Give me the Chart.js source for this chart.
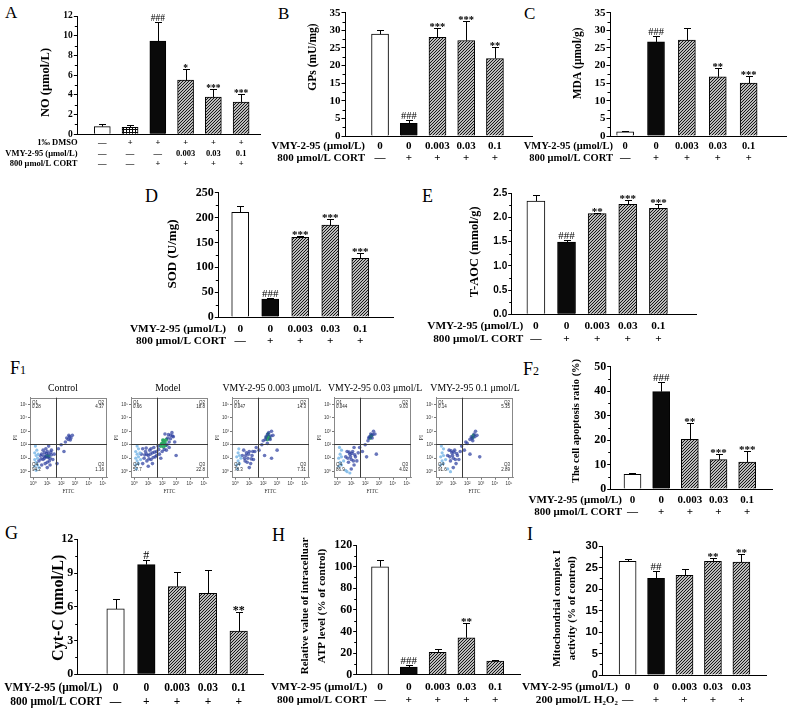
<!DOCTYPE html>
<html><head><meta charset="utf-8">
<script src="https://cdn.jsdelivr.net/npm/chart.js@4.4.1/dist/chart.umd.min.js"></script>
<style>
html,body{margin:0;padding:0;background:#fff}
body{position:relative;width:789px;height:709px;overflow:hidden}
.pane{position:absolute}
.pane canvas{display:block}
.lt{position:absolute;font-family:"Liberation Serif",serif;line-height:1;color:#000;white-space:nowrap}
.ft{font-size:9.8px;text-align:center;width:120px}
</style></head><body>
<div class="lt" style="left:5px;top:4px;font-size:17px">A</div>
<div class="lt" style="left:278px;top:5px;font-size:17px">B</div>
<div class="lt" style="left:524px;top:5px;font-size:17px">C</div>
<div class="lt" style="left:145px;top:187px;font-size:18px">D</div>
<div class="lt" style="left:422px;top:187px;font-size:18px">E</div>
<div class="lt" style="left:10px;top:359px;font-size:18px">F<span style="font-size:12px">1</span></div>
<div class="lt" style="left:523px;top:360px;font-size:18px">F<span style="font-size:12px">2</span></div>
<div class="lt" style="left:5px;top:524px;font-size:18px">G</div>
<div class="lt" style="left:272px;top:526px;font-size:18px">H</div>
<div class="lt" style="left:527px;top:525px;font-size:18px">I</div>
<script>
// ---------------- DATA ----------------
// condition rows
const dmsoRowA = ['—','+','+','+','+','+'];
const vmyRowA  = ['—','—','—','0.003','0.03','0.1'];
const cortRowA = ['—','—','+','+','+','+'];
const vmyRow   = ['0','0','0.003','0.03','0.1'];
const cortRow  = ['—','+','+','+','+'];
const vmyRowI  = ['0','0','0.003','0.03','0.03'];
const h2o2Row  = ['—','+','+','+','+'];
const rowLabelDMSO = '1‰ DMSO';
const rowLabelVMY  = 'VMY-2-95 (μmol/L)';
const rowLabelCORT = '800 μmol/L CORT';
const rowLabelH2O2 = '200 μmol/L H₂O₂';

// bar fills per group
const fillsA = ['white','grid','black','hatch','hatch','hatch'];
const fills5 = ['white','black','hatch','hatch','hatch'];

// A: NO
const noMean = [0.78,0.71,9.45,5.5,3.78,3.28];
const noErr  = [0.3,0.2,1.95,1.1,0.78,0.77];
const noSig  = ['','','###','*','***','***'];
// B: GPs
const gpsMean = [28.9,3.6,28.0,27.1,22.0];
const gpsErr  = [1.2,0.9,2.6,5.6,3.2];
const gpsSig  = ['','###','***','***','**'];
// C: MDA
const mdaMean = [1.2,26.7,27.2,16.8,15.0];
const mdaErr  = [0.2,1.6,3.4,2.4,2.0];
const mdaSig  = ['','###','','**','***'];
// D: SOD
const sodMean = [210.5,36.2,160.2,185,118];
const sodErr  = [12,2.7,1.8,11.4,10.7];
const sodSig  = ['','###','***','***','***'];
// E: T-AOC
const taocMean = [2.34,1.49,2.08,2.27,2.19];
const taocErr  = [0.12,0.05,0.02,0.09,0.08];
const taocSig  = ['','###','**','***','***'];
// F2: apoptosis
const apopMean = [6.0,39.8,20.3,12.0,11.0];
const apopErr  = [0.5,3.8,6.5,2.2,4.5];
const apopSig  = ['','###','**','***','***'];
// G: Cyt-C
const cytcMean = [5.81,9.75,7.79,7.2,3.85];
const cytcErr  = [0.86,0.41,1.34,2.07,1.69];
const cytcSig  = ['','#','','','**'];
// H: ATP
const atpMean = [99.9,7.1,20.7,34.2,12.6];
const atpErr  = [6.2,1.8,3.1,13.3,1.0];
const atpSig  = ['','###','','**',''];
// I: complex I
const cxMean = [26.43,22.48,23.18,26.43,26.28];
const cxErr  = [0.47,1.72,1.39,0.77,1.86];
const cxSig  = ['','##','','**','**'];

// axis titles
const titleA = ['NO (μmol/L)'];
const titleB = ['GPs (mU/mg)'];
const titleC = ['MDA (μmol/g)'];
const titleD = ['SOD (U/mg)'];
const titleE = ['T-AOC (mmol/g)'];
const titleF2 = ['The cell apoptosis ratio (%)'];
const titleG = ['Cyt-C (nmol/L)'];
const titleH = ['Relative value of intracelluar','ATP level (% of control)'];
const titleI = ['Mitochondrial complex I','activity (% of control)'];

// F1: flow cytometry
const flowTitles = ['Control','Model','VMY-2-95 0.003 μmol/L','VMY-2-95 0.03 μmol/L','VMY-2-95 0.1 μmol/L'];
const qNames = ['Q1','Q2','Q3','Q4'];
const q1 = ['0.28','0.66','0.047','0.044','0.14'];
const q2 = ['4.37','18.8','14.3','9.03','5.35'];
const q3 = ['1.16','22.8','7.31','4.02','2.89'];
const q4 = ['94.2','57.7','78.3','86.9','91.6'];
const decades = [0,1,2,3,4,5];
const gateFITC = 1.62, gatePI = 2.03;   // gate positions in log10 units
// event clouds (log10 FITC, log10 PI)
const ctrlBlue = [[0.5,1.2],[0.7,0.9],[0.8,1.4],[0.9,1.1],[1.0,0.7],[1.1,1.3],[1.2,1.0],[0.6,0.5],[1.3,1.6],[0.9,1.7],[1.4,0.9],[0.7,1.6],[1.0,0.3],[1.2,0.5],[0.4,0.8],[1.5,1.3],[1.1,1.9],[1.8,1.7],[2.0,2.0],[2.3,2.2],[2.5,2.4],[2.6,2.6],[2.7,2.5],[2.4,2.5],[2.8,2.7],[2.2,1.5],[1.7,0.6],[0.8,1.0],[1.0,1.5],[0.6,1.3],[0.85,0.6],[1.15,0.8],[1.3,1.25],[0.95,1.35],[0.75,1.15],[1.05,1.05],[1.25,1.45],[0.55,0.95],[2.55,2.7],[2.65,2.35]];
const ctrlLight = [[0.1,0.4],[0.1,0.9],[0.1,1.4],[0.2,0.7],[0.2,1.2],[0.3,0.5],[0.3,1.0],[0.25,1.6],[0.15,1.9],[0.35,1.3],[0.4,0.3],[0.2,0.1]];
const ctrlCore = [[0.95,1.15],[1.1,1.15]];
const modelBlue = [[0.5,1.3],[0.7,1.0],[0.8,1.5],[0.9,0.8],[1.0,1.2],[1.1,1.6],[1.2,0.9],[1.3,1.4],[0.6,0.6],[1.4,1.8],[1.5,1.1],[1.6,1.5],[1.7,1.9],[1.8,1.3],[1.0,0.4],[1.3,0.6],[2.3,1.6],[2.5,1.8],[2.4,2.5],[2.6,2.7],[2.7,2.9],[2.5,2.2],[2.8,2.6],[2.2,2.8],[2.0,1.5],[3.0,1.2],[2.9,2.2],[1.9,1.0],[1.2,1.7],[0.9,1.3],[0.6,1.7],[0.75,1.25],[1.05,0.95],[1.15,1.3],[1.45,1.45],[1.35,1.05],[0.85,1.75],[1.6,1.2],[1.75,1.65],[2.15,1.65],[2.35,2.0],[2.6,2.45],[2.45,2.75],[2.75,2.65]];
const modelLight = [[0.1,0.5],[0.1,1.0],[0.1,1.5],[0.2,0.8],[0.2,1.3],[0.3,0.6],[0.3,1.1],[0.3,1.7],[0.2,1.9],[0.4,1.4],[0.45,0.9],[0.15,0.2]];
const modelCore = [[1.9,1.9],[2.0,2.1],[2.1,1.85],[2.2,2.2],[2.05,2.35],[1.95,2.05],[2.3,2.4],[2.15,2.05],[2.25,1.95],[2.1,2.3]];
const v003Blue = [[0.5,1.2],[0.7,0.8],[0.8,1.4],[0.9,1.0],[1.0,1.5],[1.1,0.6],[1.2,1.2],[0.6,1.6],[1.3,0.9],[1.4,1.5],[1.0,0.3],[1.5,1.8],[1.7,1.6],[1.9,2.0],[2.0,2.3],[2.2,2.6],[2.4,2.9],[2.6,3.0],[2.5,2.4],[2.3,2.1],[2.7,2.7],[2.1,1.2],[2.6,1.0],[3.0,1.6],[0.75,1.2],[0.95,1.3],[1.15,0.95],[0.65,1.0],[1.25,1.5],[0.85,0.7],[2.15,2.4],[2.55,2.65],[2.3,2.75]];
const v003Light = [[0.1,0.5],[0.1,1.1],[0.2,0.8],[0.2,1.4],[0.3,0.6],[0.3,1.2],[0.25,1.7],[0.4,1.0],[0.15,0.2]];
const v003Core = [[2.3,2.4],[2.4,2.6],[2.35,2.8],[2.45,2.5],[2.25,2.55]];
const v03Blue = [[0.6,1.1],[0.8,0.7],[0.9,1.3],[1.0,0.9],[1.1,1.5],[1.2,0.5],[1.3,1.1],[0.7,1.5],[1.4,0.8],[1.0,0.2],[1.5,1.4],[1.6,1.8],[1.8,1.5],[2.0,2.0],[2.2,2.3],[2.3,2.6],[2.4,2.8],[2.6,3.0],[2.5,2.5],[2.7,2.8],[2.1,1.1],[2.8,1.3],[1.2,1.8],[0.75,1.0],[0.95,1.1],[1.15,0.8],[1.05,1.35],[0.85,1.45],[1.25,1.25],[2.25,2.5],[2.55,2.75]];
const v03Light = [[0.1,0.4],[0.1,1.0],[0.2,0.7],[0.2,1.3],[0.3,0.5],[0.3,1.1],[0.3,1.6],[0.7,0.0],[0.9,-0.1],[0.45,0.8],[0.6,0.1],[0.15,1.8]];
const v03Core = [[2.35,2.5],[2.45,2.7],[2.4,2.6]];
const v01Blue = [[0.6,1.2],[0.8,0.8],[0.9,1.4],[1.0,1.0],[1.1,1.6],[1.2,0.6],[1.3,1.2],[0.7,1.6],[1.4,0.9],[1.0,0.3],[1.5,1.5],[1.6,1.9],[1.8,1.6],[2.0,2.1],[2.2,2.4],[2.3,2.6],[2.5,2.8],[2.6,3.0],[2.4,2.3],[2.7,2.7],[2.2,1.3],[2.9,1.1],[1.9,2.2],[0.75,1.1],[0.95,1.2],[1.15,0.9],[1.05,1.45],[0.85,1.55],[1.25,1.35],[2.35,2.45],[2.55,2.6]];
const v01Light = [[0.1,0.5],[0.1,1.1],[0.2,0.8],[0.2,1.4],[0.3,0.6],[0.3,1.2],[0.3,1.7],[0.8,0.0],[0.45,0.9],[0.6,0.2],[0.15,1.9]];
const v01Core = [[2.45,2.7],[2.4,2.55]];
const flowBlue  = [ctrlBlue, modelBlue, v003Blue, v03Blue, v01Blue];
const flowLight = [ctrlLight, modelLight, v003Light, v03Light, v01Light];
const flowCore  = [ctrlCore, modelCore, v003Core, v03Core, v01Core];

// ---------------- STYLE / LAYOUT ----------------
const SERIF = '"Liberation Serif", "Times New Roman", serif';
const SANS = '"Liberation Sans", Arial, sans-serif';
const SUP = ['⁰','¹','²','³','⁴','⁵'];
Chart.defaults.font.family = SERIF;
Chart.defaults.color = '#000';

function makePattern(kind){
  const s=3, c=document.createElement('canvas'); c.width=c.height=s;
  const g=c.getContext('2d'); g.fillStyle='#fff'; g.fillRect(0,0,s,s);
  g.strokeStyle='#0a0a0a'; g.lineWidth=1.05; g.beginPath();
  if(kind==='hatch'){ g.moveTo(-1,s+1); g.lineTo(s+1,-1); g.moveTo(-1,1); g.lineTo(1,-1); g.moveTo(s-1,s+1); g.lineTo(s+1,s-1); }
  else { g.moveTo(0,0.5); g.lineTo(s,0.5); g.moveTo(0.5,0); g.lineTo(0.5,s); }
  g.stroke(); return g.createPattern(c,'repeat');
}
const HATCH = makePattern('hatch'), GRID = makePattern('grid');
const fillMap = {white:'#ffffff', black:'#0a0a0a', hatch:HATCH, grid:GRID};

function addPane(box){
  const w=document.createElement('div'); w.className='pane';
  w.style.cssText=`left:${box[0]}px;top:${box[1]}px;width:${box[2]}px;height:${box[3]}px`;
  const c=document.createElement('canvas'); w.appendChild(c); document.body.appendChild(w); return c;
}

function minorTicks(){return {id:'minor',afterDraw(chart){
  const ctx=chart.ctx, ys=chart.scales.y, t=ys.ticks, x0=chart.chartArea.left;
  ctx.save(); ctx.strokeStyle='#000'; ctx.lineWidth=1; ctx.beginPath();
  for(let i=0;i<t.length-1;i++){const y=Math.round(ys.getPixelForValue((t[i].value+t[i+1].value)/2))+0.5; ctx.moveTo(x0-2.5,y); ctx.lineTo(x0,y);}
  ctx.stroke(); ctx.restore();}};}

function errBars(L,D){return {id:'errbars',afterDatasetsDraw(chart){
  const ctx=chart.ctx, ys=chart.scales.y, bars=chart.getDatasetMeta(0).data;
  ctx.save(); ctx.strokeStyle='#000'; ctx.fillStyle='#000'; ctx.lineWidth=1;
  bars.forEach((b,i)=>{
    const x=Math.round(b.x)+0.5, top=Math.round(ys.getPixelForValue(D.mean[i]+D.err[i]))+0.5, base=ys.getPixelForValue(D.mean[i]);
    ctx.beginPath(); ctx.moveTo(x,base); ctx.lineTo(x,top); ctx.moveTo(x-3.5,top); ctx.lineTo(x+3.5,top); ctx.stroke();
    const s=D.sig[i];
    if(s){ const hash=s.charAt(0)==='#';
      ctx.font=(hash?'':'bold ')+L.sigSize+'px '+SERIF; ctx.textAlign='center'; ctx.textBaseline='alphabetic';
      ctx.fillText(s,b.x,hash?top-1.5:top+L.sigSize*0.14); }
  });
  ctx.restore();}};}

function tableRows(L,D){return {id:'rows',afterDraw(chart){
  const ctx=chart.ctx, xs=chart.scales.x, bl=L.box[0], bt=L.box[1];
  ctx.save(); ctx.fillStyle='#000'; ctx.textBaseline='middle'; ctx.font='bold '+L.rowSize+'px '+SERIF;
  D.rows.forEach((r,k)=>{ const y=L.rowY[k]-bt;
    ctx.textAlign='right'; ctx.fillText(r[0],L.rowRight-bl,y);
    ctx.textAlign='center'; r[1].forEach((t,i)=>ctx.fillText(t,xs.getPixelForValue(i),y)); });
  ctx.restore();}};}

function yTitle(L,lines){return {id:'ytitle',afterDraw(chart){
  const T=L.title, ctx=chart.ctx; ctx.save(); ctx.translate(T.cx-L.box[0],T.cy-L.box[1]); ctx.rotate(-Math.PI/2);
  ctx.font='bold '+T.size+'px '+SERIF; ctx.textAlign='center'; ctx.textBaseline='middle'; ctx.fillStyle='#000';
  lines.forEach((s,i)=>ctx.fillText(s,0,i*(T.lh||0))); ctx.restore();}};}

function barChart(L,D){
  const [bl,bt,bw,bh]=L.box; const cv=addPane(L.box);
  const tickFont={family:L.tickFamily||SERIF,size:L.tickSize,weight:'bold'};
  return new Chart(cv,{
    type:'bar',
    data:{datasets:[{data:D.mean.map((v,i)=>({x:i,y:v})),backgroundColor:D.fills.map(f=>fillMap[f]),
      borderColor:'#000',borderWidth:1,barThickness:L.bar}]},
    options:{responsive:true,maintainAspectRatio:false,animation:false,events:[],
      layout:{padding:{left:0,bottom:0,top:L.yTop-bt,right:bl+bw-L.axisEnd}},
      plugins:{legend:{display:false},tooltip:{enabled:false}},
      scales:{
        x:{type:'linear',min:L.xMin,max:L.xMax,offset:false,grid:{display:false,offset:false},
           border:{display:true,color:'#000',width:1},ticks:{display:false},afterFit:s=>{s.height=bt+bh-L.y0;}},
        y:{type:'linear',min:0,max:L.yMax,
           ticks:{stepSize:L.step,font:tickFont,color:'#000',padding:1,autoSkip:false,callback:L.fmt||(v=>String(v))},
           grid:{display:true,drawOnChartArea:false,drawTicks:true,tickLength:3.5,color:'#000',lineWidth:1},
           border:{display:true,color:'#000',width:1},afterFit:s=>{s.width=L.axisX-bl;}}
      }},
    plugins:[minorTicks(),errBars(L,D),tableRows(L,D),yTitle(L,D.title)]
  });
}

const layoutA={box:[0,0,268,172],axisX:77.3,yTop:16,y0:134.3,axisEnd:260,xMin:-0.90,xMax:5.68,bar:16,yMax:12,step:2,tickSize:9.5,rowSize:8.5,rowRight:77.5,rowY:[143,154,164],sigSize:9.5,title:{cx:45.5,cy:82.5,size:12.5}};
const layoutB={box:[265,0,270,170],axisX:345,yTop:12.7,y0:136,axisEnd:532,xMin:-1.22,xMax:5.29,bar:17,yMax:35,step:5,tickSize:11,rowSize:11,rowRight:365,rowY:[146,158],sigSize:10.5,title:{cx:313,cy:57,size:11.5}};
const layoutC={box:[520,0,269,170],axisX:610,yTop:12.7,y0:136,axisEnd:786,xMin:-0.49,xMax:5.21,bar:17,yMax:35,step:5,tickSize:11,rowSize:10.5,rowRight:613,rowY:[146,158],sigSize:10.5,title:{cx:578,cy:63.3,size:11.5}};
const layoutD={box:[120,175,275,175],axisX:218.3,yTop:192.7,y0:317,axisEnd:393,xMin:-0.73,xMax:5.09,bar:17,yMax:250,step:50,tickSize:12,rowSize:11.3,rowRight:226,rowY:[329,341.3],sigSize:11,title:{cx:173,cy:254,size:13}};
const layoutE={box:[400,175,300,175],axisX:511.7,yTop:193.3,y0:314.3,axisEnd:696.7,xMin:-0.79,xMax:5.25,bar:18,yMax:2.5,step:0.5,tickSize:10,tickFamily:SANS,fmt:v=>v.toFixed(1),rowSize:11.3,rowRight:523.3,rowY:[325.7,339],sigSize:11,title:{cx:475,cy:251.7,size:12.5}};
const layoutF2={box:[520,350,269,170],axisX:610.7,yTop:366.7,y0:489,axisEnd:772.7,xMin:-0.76,xMax:4.89,bar:17,yMax:50,step:10,tickSize:12,rowSize:11,rowRight:622,rowY:[500,511.7],sigSize:11,title:{cx:576,cy:421,size:10.5}};
const layoutG={box:[0,520,268,189],axisX:77.7,yTop:539.3,y0:674.3,axisEnd:263,xMin:-1.23,xMax:4.79,bar:17.5,yMax:12,step:3,tickSize:12,rowSize:11.5,rowRight:102,rowY:[688.3,701.7],sigSize:12,title:{cx:59,cy:607.8,size:16}};
const layoutH={box:[262,520,262,189],axisX:356.7,yTop:545,y0:674.7,axisEnd:520,xMin:-0.81,xMax:4.86,bar:17,yMax:120,step:20,tickSize:12,rowSize:11.3,rowRight:367,rowY:[686.7,700],sigSize:11,title:{cx:305,cy:606,size:11,lh:16.7}};
const layoutI={box:[519,520,270,189],axisX:602.3,yTop:546,y0:675,axisEnd:766.7,xMin:-0.89,xMax:4.89,bar:17,yMax:30,step:5,tickSize:11,tickFamily:SANS,rowSize:11.3,rowRight:618,rowY:[686.7,700],sigSize:11,title:{cx:556.7,cy:608.3,size:11,lh:15}};

barChart(layoutA,{mean:noMean,err:noErr,sig:noSig,fills:fillsA,title:titleA,rows:[[rowLabelDMSO,dmsoRowA],[rowLabelVMY,vmyRowA],[rowLabelCORT,cortRowA]]});
barChart(layoutB,{mean:gpsMean,err:gpsErr,sig:gpsSig,fills:fills5,title:titleB,rows:[[rowLabelVMY,vmyRow],[rowLabelCORT,cortRow]]});
barChart(layoutC,{mean:mdaMean,err:mdaErr,sig:mdaSig,fills:fills5,title:titleC,rows:[[rowLabelVMY,vmyRow],[rowLabelCORT,cortRow]]});
barChart(layoutD,{mean:sodMean,err:sodErr,sig:sodSig,fills:fills5,title:titleD,rows:[[rowLabelVMY,vmyRow],[rowLabelCORT,cortRow]]});
barChart(layoutE,{mean:taocMean,err:taocErr,sig:taocSig,fills:fills5,title:titleE,rows:[[rowLabelVMY,vmyRow],[rowLabelCORT,cortRow]]});
barChart(layoutF2,{mean:apopMean,err:apopErr,sig:apopSig,fills:fills5,title:titleF2,rows:[[rowLabelVMY,vmyRow],[rowLabelCORT,cortRow]]});
barChart(layoutG,{mean:cytcMean,err:cytcErr,sig:cytcSig,fills:fills5,title:titleG,rows:[[rowLabelVMY,vmyRow],[rowLabelCORT,cortRow]]});
barChart(layoutH,{mean:atpMean,err:atpErr,sig:atpSig,fills:fills5,title:titleH,rows:[[rowLabelVMY,vmyRow],[rowLabelCORT,cortRow]]});
barChart(layoutI,{mean:cxMean,err:cxErr,sig:cxSig,fills:fills5,title:titleI,rows:[[rowLabelVMY,vmyRowI],[rowLabelH2O2,h2o2Row]]});

// ---------------- FLOW PLOTS ----------------
const flowLayout={lefts:[30,131,232,334,436],titleX:[63,168,272,375,475],titleTop:383,padL:20,top:392,w:102,h:110,plotTop:397.7,plotW:77,plotBottom:477.7,xMin:-0.24,xMax:5.29,yMin:-0.45,yMax:5.5};

function flowDecor(k){return {id:'decor',afterDatasetsDraw(chart){
  const ctx=chart.ctx, ca=chart.chartArea, xs=chart.scales.x, ys=chart.scales.y;
  ctx.save();
  ctx.strokeStyle='#888'; ctx.lineWidth=1;
  ctx.strokeRect(Math.round(ca.left)+0.5,Math.round(ca.top)+0.5,Math.round(ca.right-ca.left)-1,Math.round(ca.bottom-ca.top)-1);
  const gx=Math.round(xs.getPixelForValue(gateFITC))+0.5, gy=Math.round(ys.getPixelForValue(gatePI))+0.5;
  ctx.strokeStyle='#3a3a3a'; ctx.beginPath(); ctx.moveTo(gx,ca.top); ctx.lineTo(gx,ca.bottom); ctx.moveTo(ca.left,gy); ctx.lineTo(ca.right,gy); ctx.stroke();
  ctx.font='4.5px '+SANS; ctx.fillStyle='#222'; ctx.textBaseline='middle';
  ctx.textAlign='left';
  ctx.fillText(qNames[0],ca.left+2,ca.top+5); ctx.fillText(q1[k],ca.left+2,ca.top+9.5);
  ctx.fillText(qNames[3],ca.left+2,ca.bottom-12.5); ctx.fillText(q4[k],ca.left+2,ca.bottom-7.5);
  ctx.textAlign='right';
  ctx.fillText(qNames[1],ca.right-3,ca.top+5); ctx.fillText(q2[k],ca.right-3,ca.top+9.5);
  ctx.fillText(qNames[2],ca.right-3,ca.bottom-12.5); ctx.fillText(q3[k],ca.right-3,ca.bottom-7.5);
  ctx.restore();}};}

function toPts(arr){return arr.map(p=>({x:p[0],y:p[1]}));}

function flowChart(k){
  const F=flowLayout, left=F.lefts[k]-F.padL, box=[left,F.top,F.w,F.h];
  const cv=addPane(box);
  const t=document.createElement('div'); t.className='lt ft'; t.textContent=flowTitles[k];
  t.style.left=(F.titleX[k]-60)+'px'; t.style.top=F.titleTop+'px'; document.body.appendChild(t);
  const tickOpts={callback:v=>'10'+SUP[v],font:{family:SANS,size:4.5},color:'#333',padding:1,maxRotation:0,autoSkip:false};
  const gridOpts={display:true,drawOnChartArea:false,drawTicks:true,tickLength:2,color:'#555',lineWidth:0.8};
  new Chart(cv,{type:'scatter',
    data:{datasets:[
      {data:toPts(flowLight[k]),backgroundColor:'rgba(125,185,232,0.85)',pointRadius:1.6,borderWidth:0},
      {data:toPts(flowBlue[k]),backgroundColor:'rgba(42,60,158,0.7)',pointRadius:1.8,borderWidth:0},
      {data:toPts(flowCore[k]),backgroundColor:'rgba(40,165,95,0.9)',pointRadius:1.9,borderWidth:0}]},
    options:{responsive:true,maintainAspectRatio:false,animation:false,events:[],
      layout:{padding:{left:0,bottom:0,top:F.plotTop-F.top,right:F.w-F.padL-F.plotW}},
      plugins:{legend:{display:false},tooltip:{enabled:false}},
      scales:{
        x:{type:'linear',min:F.xMin,max:F.xMax,afterBuildTicks:s=>{s.ticks=decades.map(v=>({value:v}));},ticks:tickOpts,grid:gridOpts,
           border:{display:true,color:'#888'},title:{display:true,text:'FITC',font:{family:SERIF,size:5.5},color:'#333',padding:{top:0,bottom:7}},
           afterFit:s=>{s.height=F.top+F.h-F.plotBottom;}},
        y:{type:'linear',min:F.yMin,max:F.yMax,afterBuildTicks:s=>{s.ticks=decades.map(v=>({value:v}));},ticks:tickOpts,grid:gridOpts,
           border:{display:true,color:'#888'},title:{display:true,text:'PI',font:{family:SERIF,size:5.5},color:'#333',padding:{top:2.7,bottom:0}},
           afterFit:s=>{s.width=F.padL;}}
      }},
    plugins:[flowDecor(k)]
  });
}
for(let k=0;k<flowTitles.length;k++) flowChart(k);
</script>
</body></html>
